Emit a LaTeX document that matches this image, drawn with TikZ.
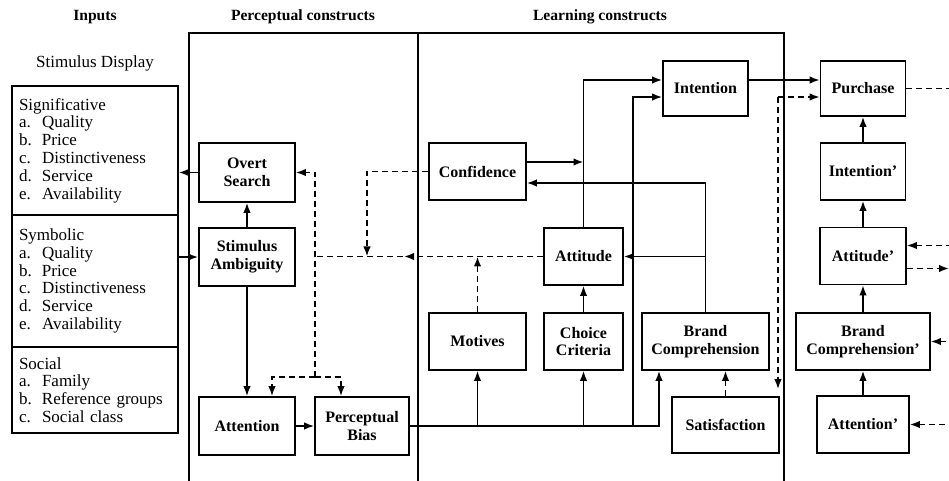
\documentclass[tikz,border=0pt]{standalone}
\usepackage{fontspec}
\setmainfont{Liberation Serif}
\usetikzlibrary{arrows.meta}

\newcommand\cue[2]{\makebox[11.5pt][l]{#1}#2}

\begin{document}
\begin{tikzpicture}[
    x=0.5pt,y=-0.5pt,line width=0.85pt,
    box/.style={draw,align=center,inner sep=1pt,font=\bfseries\fontsize{8}{8.8}\selectfont},
    input/.style={draw,align=left,inner xsep=3.5pt,text width=76pt,font=\fontsize{8.5}{8.9}\selectfont},
    head/.style={font=\bfseries\fontsize{7.8}{9}\selectfont},
    fb/.style={dash pattern=on 3pt off 2pt}
  ]
    \useasboundingbox (0,0) rectangle (949,481);

    % headings
    \node[head] (hin) at (95,17) {Inputs};
    \node[head] (hper) at (303,17) {Perceptual constructs};
    \node[head] (hlrn) at (600,17) {Learning constructs};
    \node[font=\fontsize{8.5}{10}\selectfont] (disp) at (95,63) {Stimulus Display};

    % inputs
    \node[input,minimum height=64.5pt] (sig) at (95,150.5) {Significative\\\cue{a.}{Quality}\\\cue{b.}{Price}\\\cue{c.}{Distinctiveness}\\\cue{d.}{Service}\\\cue{e.}{Availability}};
    \node[input,minimum height=66pt] (sym) at (95,281) {Symbolic\\\cue{a.}{Quality}\\\cue{b.}{Price}\\\cue{c.}{Distinctiveness}\\\cue{d.}{Service}\\\cue{e.}{Availability}};
    \node[input,minimum height=43pt] (soc) at (95,390) {Social\\\cue{a.}{Family}\\\cue{b.}{Reference groups}\\\cue{c.}{Social class}};

    % frames
    \draw (189,481) -- (189,33) -- (784,33) -- (784,481);
    \draw (418,33) -- (418,481);

    % perceptual constructs
    \node[box,minimum width=48pt,minimum height=29.5pt] (overt) at (247,172.5) {Overt\\Search};
    \node[box,minimum width=48pt,minimum height=29pt] (stamb) at (247,257) {Stimulus\\Ambiguity};
    \node[box,minimum width=48pt,minimum height=29pt] (attn) at (247,426) {Attention};
    \node[box,minimum width=47pt,minimum height=29pt] (pbias) at (362,426) {Perceptual\\Bias};

    % learning constructs
    \node[box,minimum width=48.5pt,minimum height=28.5pt] (conf) at (477.5,171.5) {Confidence};
    \node[box,minimum width=48.5pt,minimum height=28.5pt] (motives) at (477.5,341.5) {Motives};
    \node[box,minimum width=39.5pt,minimum height=28.5pt] (attit) at (583.5,256.5) {Attitude};
    \node[box,minimum width=39.5pt,minimum height=28.5pt] (choice) at (583.5,341.5) {Choice\\Criteria};
    \node[box,minimum width=42.5pt,minimum height=27.5pt] (intent) at (705.5,88.5) {Intention};
    \node[box,minimum width=63.5pt,minimum height=28.5pt] (brandc) at (705.5,341.5) {Brand\\Comprehension};
    \node[box,minimum width=53.5pt,minimum height=28pt] (satisf) at (725.5,425) {Satisfaction};

    % outputs
    \node[box,minimum width=42.5pt,minimum height=27.5pt] (purch) at (863,88.5) {Purchase};
    \node[box,minimum width=42.5pt,minimum height=28.5pt] (intent2) at (863,171.5) {Intention'};
    \node[box,minimum width=43pt,minimum height=28.5pt] (attit2) at (863,256) {Attitude'};
    \node[box,minimum width=67pt,minimum height=28.5pt] (brandc2) at (863,341.5) {Brand\\Comprehension'};
    \node[box,minimum width=46pt,minimum height=28.5pt] (attn2) at (863,424.5) {Attention'};

    \coordinate (fork) at (315,377);
    \coordinate (dip) at (367,256.5);
    \coordinate (stop) at (404,256.5);
    \coordinate (fbk) at (778,97);
    \coordinate (edge) at (949,0);

    % solid flows
    \draw[-{Latex[length=5pt]}] (overt.west) -- (overt.west -| sig.east);
    \draw[-{Latex[length=5pt]}] (stamb.west -| sym.east) -- (stamb.west);
    \draw[-{Latex[length=5pt]}] (stamb) -- (overt);
    \draw[-{Latex[length=5pt]}] (stamb) -- (attn);
    \draw[-{Latex[length=5pt]}] (attn) -- (pbias);
    \draw[-{Latex[length=5pt]}] (pbias.east) -| ([xshift=-23.25pt]brandc.south);
    \draw[-{Latex[length=5pt]}] (motives.south |- pbias.east) -- (motives.south);
    \draw[-{Latex[length=5pt]}] (choice.south |- pbias.east) -- (choice.south);
    \draw[-{Latex[length=5pt]}] ([xshift=-14.5pt]intent.west |- pbias.east) |- ([yshift=-4.25pt]intent.west);
    \draw[-{Latex[length=5pt]}] (attit.north) |- ([yshift=4.25pt]intent.west);
    \draw[-{Latex[length=5pt]}] ([yshift=4.75pt]conf.east) -- ([yshift=4.75pt]conf.east -| attit.north);
    \draw[-{Latex[length=5pt]}] (choice) -- (attit);
    \draw[-{Latex[length=5pt]}] (brandc.north) |- ([yshift=-5.75pt]conf.east);
    \draw[-{Latex[length=5pt]}] (brandc.north |- attit.east) -- (attit.east);
    \draw[-{Latex[length=5pt]}] ([yshift=4.25pt]intent.east) -- ([yshift=4.25pt]purch.west);
    \draw[-{Latex[length=5pt]}] (intent2) -- (purch);
    \draw[-{Latex[length=5pt]}] (attit2) -- (intent2);
    \draw[-{Latex[length=5pt]}] (brandc2) -- (attit2);
    \draw[-{Latex[length=5pt]}] (attn2) -- (brandc2);

    % feedback
    \draw[fb] (attit.west) -- (attit.west -| fork);
    \draw[fb,-{Latex[length=5pt]}] (attit.west) -- (stop);
    \draw[fb,-{Latex[length=5pt]}] (motives.north) -- (motives.north |- attit.west);
    \draw[fb,-{Latex[length=5pt]}] (conf.west) -| (dip);
    \draw[fb,-{Latex[length=5pt]}] (fork) |- (overt.east);
    \draw[fb,-{Latex[length=5pt]}] (fork) -| ([xshift=12.5pt]attn.north);
    \draw[fb,-{Latex[length=5pt]}] (fork) -| ([xshift=-10.5pt]pbias.north);
    \draw[fb,-{Latex[length=5pt]}] (satisf.north) -- (satisf.north |- brandc.south);
    \draw[fb,-{Latex[length=5pt]}] (fbk) -- (fbk -| purch.west);
    \draw[fb,-{Latex[length=5pt]},shorten >=3.5pt] (fbk) -- (fbk |- satisf.north);
    \draw[fb] (purch.east) -- (purch.east -| edge);
    \draw[fb,{Latex[length=5pt]}-] ([yshift=5.25pt]attit2.east) -- ([yshift=5.25pt]attit2.east -| edge);
    \draw[fb,-{Latex[length=5pt]}] ([yshift=-6.25pt]attit2.east) -- ([yshift=-6.25pt]attit2.east -| edge);
    \draw[fb,{Latex[length=5pt]}-] (brandc2.east) -- (brandc2.east -| edge);
    \draw[fb,{Latex[length=5pt]}-] (attn2.east) -- (attn2.east -| edge);
  \end{tikzpicture}
\end{document}
